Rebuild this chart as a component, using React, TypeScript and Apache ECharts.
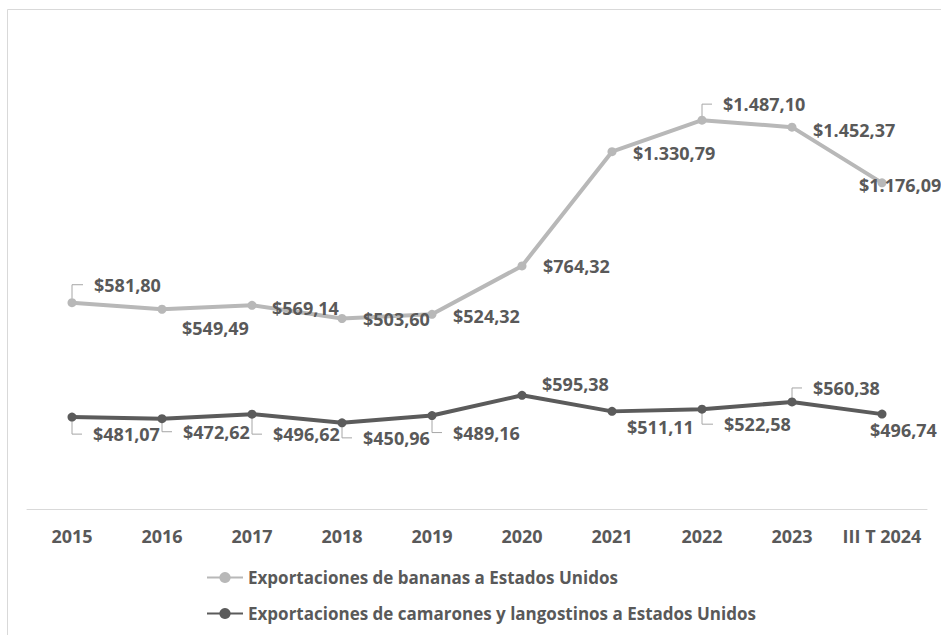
import React, { useEffect, useRef } from "react";
import * as echarts from "echarts";

// ---- Data ----
const categories = ["2015", "2016", "2017", "2018", "2019", "2020", "2021", "2022", "2023", "III T 2024"];
const bananaValues = [581.8, 549.49, 569.14, 503.6, 524.32, 764.32, 1330.79, 1487.1, 1452.37, 1176.09];
const shrimpValues = [481.07, 472.62, 496.62, 450.96, 489.16, 595.38, 511.11, 522.58, 560.38, 496.74];
const bananaName = "Exportaciones de bananas a Estados Unidos";
const shrimpName = "Exportaciones de camarones y langostinos a Estados Unidos";

// ---- Label layout (pixel offsets from default "right" label position) ----
const bananaLabelOffsets = [[1, -18], [-1, 19], [-1, 3], [0, 1], [0, 2], [0, 0], [0, 1], [0, -16], [0, 3], [-44, 2]];
const shrimpLabelOffsets = [[0, 17], [0, 13], [0, 20], [0, 15], [0, 17], [-1, -11], [-6, 16], [1, 15], [0, -14], [-33, 16]];
const bananaLeaders = [0, 7];
const shrimpLeaders = [0, 1, 2, 3, 4, 7, 8];

const BANANA_COLOR = "#b8b8b8";
const SHRIMP_COLOR = "#5b5b5b";
const TEXT_COLOR = "#595959";
const FONT = "'Open Sans', sans-serif";

function fmt(v: number): string {
  const [i, d] = v.toFixed(2).split(".");
  return "$" + i.replace(/\B(?=(\d{3})+(?!\d))/g, ".") + "," + d;
}

function leaderSeries(values: number[], idxs: number[], offsets: number[][], yAxisIndex: number) {
  return {
    type: "custom",
    name: "leader" + yAxisIndex,
    xAxisIndex: 0,
    yAxisIndex,
    silent: true,
    z: 1,
    encode: { x: 0, y: 1 },
    data: idxs.map((i) => [i, values[i]]),
    renderItem: (params: any, api: any) => {
      const idx = api.value(0);
      const pt = api.coord([idx, api.value(1)]);
      const [dx, dy] = offsets[idx];
      const ey = pt[1] + dy;
      const ex = pt[0] + 10 + dx;
      return {
        type: "polyline",
        shape: { points: [[pt[0], pt[1] + Math.sign(dy) * 4], [pt[0], ey], [ex, ey]] },
        style: { stroke: "#a6a6a6", lineWidth: 1, fill: null },
      };
    },
  };
}

export default function App() {
  const ref = useRef<HTMLDivElement>(null);
  useEffect(() => {
    if (!ref.current) return;
    const chart = echarts.init(ref.current, null, { renderer: "svg" });
    const labelBase = {
      show: true,
      position: "right",
      distance: 16.5,
      formatter: (p: any) => fmt(p.value),
      color: TEXT_COLOR,
      fontFamily: FONT,
      fontWeight: "bold",
      fontSize: 18,
    };
    chart.setOption({
      animation: false,
      backgroundColor: "#ffffff",
      graphic: [
        {
          type: "rect",
          silent: true,
          shape: { x: 7.5, y: 9.5, width: 1000, height: 700 },
          style: { stroke: "#d9d9d9", fill: "none", lineWidth: 1 },
        },
      ],
      grid: { left: 27, right: 14, top: 29, bottom: 126, containLabel: false },
      xAxis: {
        type: "category",
        data: categories,
        boundaryGap: true,
        axisLine: { show: true, onZero: false, lineStyle: { color: "#d9d9d9", width: 1 } },
        axisTick: { show: false },
        axisLabel: {
          margin: 18,
          color: TEXT_COLOR,
          fontFamily: FONT,
          fontWeight: "bold",
          fontSize: 18,
          interval: 0,
        },
        splitLine: { show: false },
      },
      yAxis: [
        { type: "value", show: false, min: -441, max: 1939, splitLine: { show: false } },
        { type: "value", show: false, min: 0, max: 2513, splitLine: { show: false } },
      ],
      legend: {
        data: [bananaName, shrimpName],
        orient: "vertical",
        left: 206,
        top: 569,
        padding: 0,
        itemGap: 19,
        itemWidth: 36,
        itemHeight: 14,
        textStyle: { color: TEXT_COLOR, fontFamily: FONT, fontWeight: "bold", fontSize: 17 },
      },
      series: [
        {
          type: "line",
          name: bananaName,
          yAxisIndex: 0,
          z: 3,
          data: bananaValues.map((v, i) => ({ value: v, label: { offset: bananaLabelOffsets[i] } })),
          symbol: "circle",
          symbolSize: 9,
          lineStyle: { color: BANANA_COLOR, width: 4 },
          itemStyle: { color: BANANA_COLOR },
          label: labelBase,
        },
        {
          type: "line",
          name: shrimpName,
          yAxisIndex: 1,
          z: 3,
          data: shrimpValues.map((v, i) => ({ value: v, label: { offset: shrimpLabelOffsets[i] } })),
          symbol: "circle",
          symbolSize: 9,
          lineStyle: { color: SHRIMP_COLOR, width: 4 },
          itemStyle: { color: SHRIMP_COLOR },
          label: labelBase,
        },
        leaderSeries(bananaValues, bananaLeaders, bananaLabelOffsets, 0),
        leaderSeries(shrimpValues, shrimpLeaders, shrimpLabelOffsets, 1),
      ],
    });
    return () => chart.dispose();
  }, []);
  return (
    <div
      ref={ref}
      style={{ position: "fixed", left: 0, top: 0, width: 941, height: 635, background: "#fff" }}
    />
  );
}
